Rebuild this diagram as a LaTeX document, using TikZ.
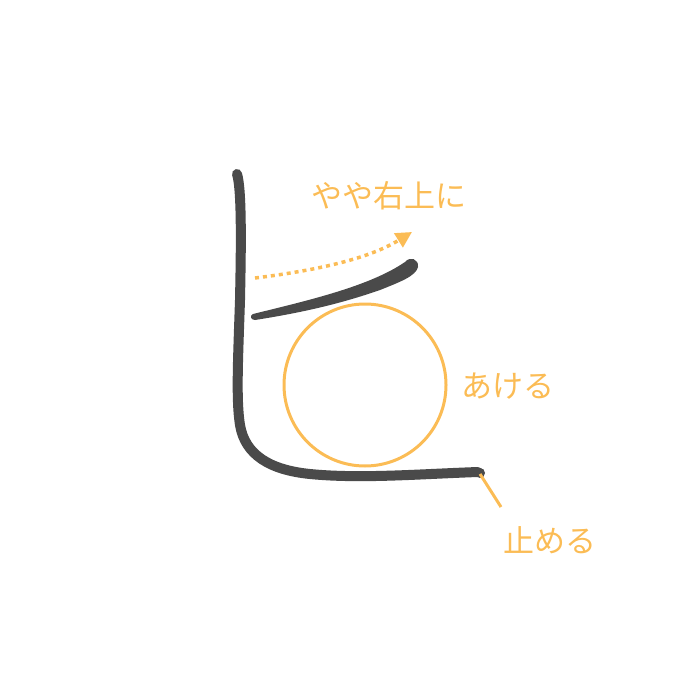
\documentclass[tikz,border=0pt]{standalone}
\usepackage{fontspec}
\newfontfamily\jp{Noto Sans CJK JP}
\usetikzlibrary{arrows.meta}
\definecolor{ink}{HTML}{4A4A4A}
\definecolor{ora}{HTML}{FBBC55}
\tikzset{
  brush/.style={draw=ink,line width=10pt,line cap=round,line join=round},
  guide/.style={draw=ora,line width=3pt},
  lbl/.style={text=ora,font=\jp\fontsize{31}{34}\selectfont,inner sep=0pt}
}
\begin{document}
\begin{tikzpicture}[x=1pt,y=-1pt]
\useasboundingbox (0,0) rectangle (700,700);
% vertical + bottom stroke
\draw[brush] (237,174) .. controls (242,190) and (241,250) .. (240,300)
  .. controls (238,360) and (236,400) .. (240,425)
  .. controls (245,455) and (270,470) .. (310,474)
  .. controls (360,479) and (420,474) .. (478,472);
\fill[ink] (480,473) circle (5);
% rising stroke (tapered)
\fill[ink] (253,314) .. controls (310,300) and (370,286) .. (405,262)
  .. controls (410,256) and (419,259) .. (418,267)
  .. controls (416,276) and (400,282) .. (380,290)
  .. controls (340,304) and (300,313) .. (255,320)
  .. controls (250,320) and (250,315) .. (253,314) -- cycle;
% circle
\node[draw=ora,line width=3pt,circle,minimum size=162pt,inner sep=0pt] (c) at (365,385) {};
% dotted arrow
\coordinate (a0) at (255,278);
\coordinate (a1) at (412,232);
\draw[ora,line width=3.5pt,dash pattern=on 4pt off 4pt,-{Triangle[length=16pt,width=16pt]}]
  (a0) .. controls (320,270) and (370,258) .. (a1);
% labels
\node[lbl] (t1) at (389,196) {やや右上に};
\node[lbl] (t2) at (508,386) {あける};
\node[lbl] (t3) at (550,540) {止める};
% leader
\coordinate (e) at (480,474);
\draw[guide] (e) -- (501,507);
\end{tikzpicture}
\end{document}
